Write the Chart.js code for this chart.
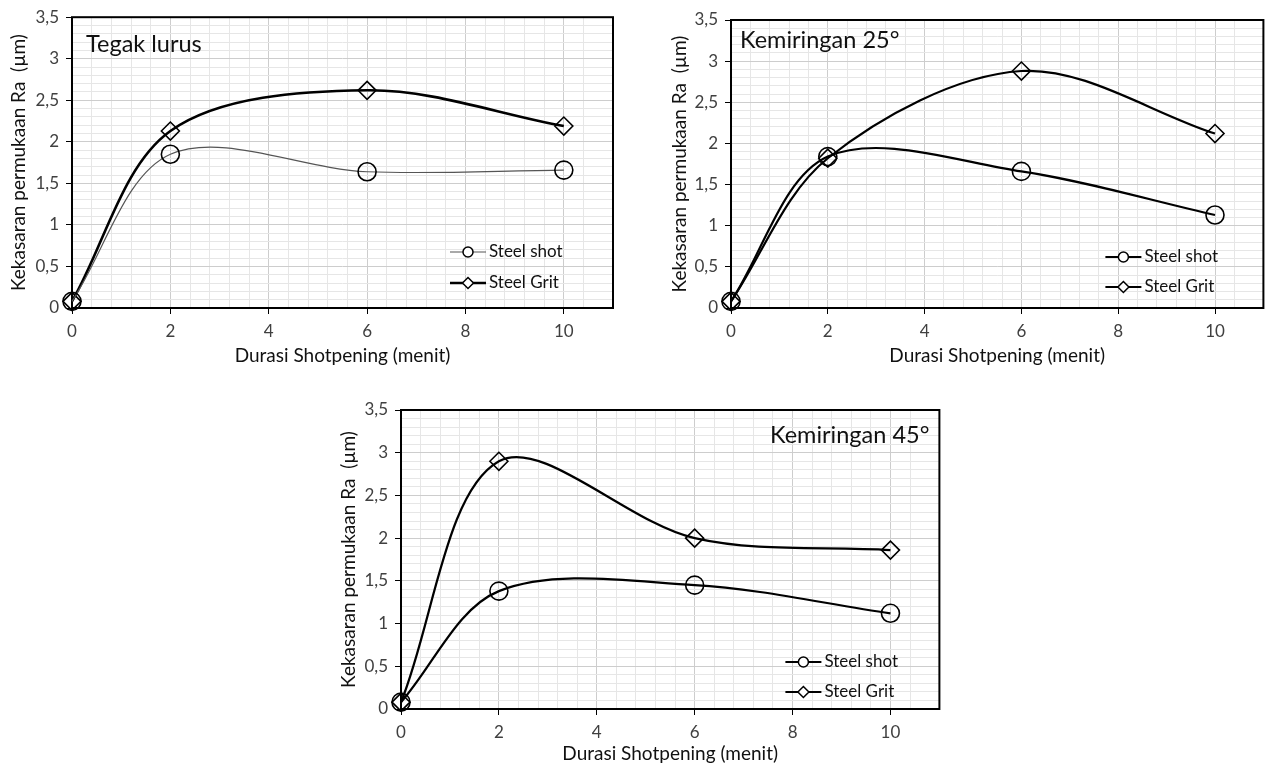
<!DOCTYPE html>
<html>
<head>
<meta charset="utf-8">
<script src="https://cdn.jsdelivr.net/npm/chart.js"></script>
<style>
  body { margin: 0; background: #fff; width: 1274px; height: 767px; position: relative; overflow: hidden; }
  canvas { position: absolute; }
</style>
</head>
<body>
<canvas id="c1" width="630" height="370" style="left:0px;top:0px"></canvas>
<canvas id="c2" width="614" height="370" style="left:660px;top:0px"></canvas>
<canvas id="c3" width="620" height="377" style="left:330px;top:390px"></canvas>
<script>
// data
const durasi = [0, 2, 6, 10];
const seriesNames = ["Steel shot", "Steel Grit"];
const tegakShot = [0.08, 1.85, 1.64, 1.66];
const tegakGrit = [0.08, 2.13, 2.62, 2.19];
const miring25Shot = [0.08, 1.84, 1.66, 1.13];
const miring25Grit = [0.08, 1.82, 2.88, 2.12];
const miring45Shot = [0.08, 1.38, 1.45, 1.12];
const miring45Grit = [0.08, 2.90, 2.00, 1.86];
const panelTitles = ["Tegak lurus", "Kemiringan 25°", "Kemiringan 45°"];
const xTickLabels = ["0", "2", "4", "6", "8", "10"];
const yTickLabels = ["0", "0,5", "1", "1,5", "2", "2,5", "3", "3,5"];
const xTitle = "Durasi Shotpening (menit)";
const yTitle = "Kekasaran permukaan Ra  (µm)";

const FONT = "Lato, 'Open Sans', sans-serif";

function isMulti(v, step) {
  return Math.abs(v / step - Math.round(v / step)) < 1e-6;
}

// frame, panel title and the legend inside the plot
const panelDeco = {
  id: "panelDeco",
  beforeDatasetsDraw(chart) {
    const { ctx, chartArea: a } = chart;
    ctx.save();
    ctx.strokeStyle = "#000";
    ctx.lineWidth = 2;
    ctx.strokeRect(a.left, a.top, a.right - a.left, a.bottom - a.top);
    ctx.restore();
  },
  afterDraw(chart, args, opts) {
    const { ctx, chartArea: a } = chart;
    ctx.save();
    ctx.fillStyle = "#111";
    ctx.textBaseline = "middle";
    ctx.font = "23.5px " + FONT;
    ctx.textAlign = opts.titleAlign;
    const tx = opts.titleAlign === "left" ? a.left + opts.titleDx : a.right - opts.titleDx;
    ctx.fillText(opts.title, tx, a.top + opts.titleDy);

    ctx.font = "17px " + FONT;
    ctx.textAlign = "left";
    chart.data.datasets.forEach((ds, i) => {
      const mx = a.right - opts.legendDx;
      const my = a.bottom - opts.legendDy[i];
      ctx.strokeStyle = ds.borderColor;
      ctx.lineWidth = ds.borderWidth;
      ctx.beginPath();
      ctx.moveTo(mx - 18, my);
      ctx.lineTo(mx + 18, my);
      ctx.stroke();
      ctx.fillStyle = "#fff";
      ctx.strokeStyle = "#000";
      ctx.lineWidth = 1.5;
      ctx.beginPath();
      if (ds.pointStyle === "circle") {
        ctx.arc(mx, my, 5, 0, Math.PI * 2);
      } else {
        ctx.moveTo(mx, my - 5.5);
        ctx.lineTo(mx + 5.5, my);
        ctx.lineTo(mx, my + 5.5);
        ctx.lineTo(mx - 5.5, my);
        ctx.closePath();
      }
      ctx.fill();
      ctx.stroke();
      ctx.fillStyle = "#111";
      ctx.fillText(ds.label, mx + 21, my);
    });
    ctx.restore();
  }
};

function makeSet(name, values, style, color, width) {
  return {
    label: name,
    data: durasi.map((x, i) => ({ x: x, y: values[i] })),
    borderColor: color,
    borderWidth: width,
    tension: 0.33,
    pointStyle: style,
    pointRadius: 9,
    pointBorderWidth: 1.6,
    pointBorderColor: "#000",
    pointBackgroundColor: "rgba(0,0,0,0)",
    clip: false,
    fill: false
  };
}

function chartMaker(id, datasets, cfg) {
  new Chart(document.getElementById(id).getContext("2d"), {
    type: "line",
    data: { datasets: datasets },
    plugins: [panelDeco],
    options: {
      responsive: false,
      animation: false,
      events: [],
      layout: { padding: { left: 0, top: cfg.top, right: cfg.right, bottom: 0 } },
      plugins: {
        legend: { display: false },
        tooltip: { enabled: false },
        panelDeco: cfg.deco
      },
      scales: {
        x: {
          type: "linear",
          min: 0,
          max: 11,
          afterFit: (s) => { s.height = cfg.xHeight; },
          ticks: {
            stepSize: 0.4,
            autoSkip: false,
            maxRotation: 0,
            padding: 7,
            color: "#404040",
            font: { family: FONT, size: 17 },
            callback: (v) => (isMulti(v, 2) ? xTickLabels[Math.round(v / 2)] : "")
          },
          grid: {
            color: (c) => (c.tick && isMulti(c.tick.value, 2) ? "#cdcdcd" : "#e6e6e6"),
            tickColor: (c) => (c.tick && isMulti(c.tick.value, 2) ? "#000" : "rgba(0,0,0,0)"),
            tickLength: 6,
            lineWidth: 1
          },
          border: { display: false },
          title: {
            display: true,
            text: xTitle,
            color: "#111",
            font: { family: FONT, size: 19 },
            padding: { top: 0, bottom: cfg.xTitlePad }
          }
        },
        y: {
          min: 0,
          max: 3.5,
          afterFit: (s) => { s.width = cfg.yWidth; },
          ticks: {
            stepSize: 0.1,
            autoSkip: false,
            padding: 7,
            color: "#404040",
            font: { family: FONT, size: 17 },
            callback: (v) => (isMulti(v, 0.5) ? yTickLabels[Math.round(v / 0.5)] : "")
          },
          grid: {
            color: (c) => (c.tick && isMulti(c.tick.value, 0.5) ? "#cdcdcd" : "#e6e6e6"),
            tickColor: (c) => (c.tick && isMulti(c.tick.value, 0.5) ? "#000" : "rgba(0,0,0,0)"),
            tickLength: 6,
            lineWidth: 1
          },
          border: { display: false },
          title: {
            display: true,
            text: yTitle,
            color: "#111",
            font: { family: FONT, size: 19 },
            padding: { top: cfg.yTitlePad, bottom: 0 }
          }
        }
      }
    }
  });
}

chartMaker("c1", [
  makeSet(seriesNames[0], tegakShot, "circle", "#555", 1.2),
  makeSet(seriesNames[1], tegakGrit, "rectRot", "#000", 2.6)
], {
  top: 16, right: 17, xHeight: 62, yWidth: 72, xTitlePad: 2.5, yTitlePad: 7,
  deco: { title: panelTitles[0], titleAlign: "left", titleDx: 14, titleDy: 27, legendDx: 145, legendDy: [56, 25] }
});

chartMaker("c2", [
  makeSet(seriesNames[0], miring25Shot, "circle", "#000", 2.2),
  makeSet(seriesNames[1], miring25Grit, "rectRot", "#000", 2.2)
], {
  top: 20, right: 2, xHeight: 62, yWidth: 71, xTitlePad: 2.5, yTitlePad: 8.5,
  deco: { title: panelTitles[1], titleAlign: "left", titleDx: 9, titleDy: 20, legendDx: 140, legendDy: [51, 21] }
});

chartMaker("c3", [
  makeSet(seriesNames[0], miring45Shot, "circle", "#000", 2.2),
  makeSet(seriesNames[1], miring45Grit, "rectRot", "#000", 2.2)
], {
  top: 20, right: 7, xHeight: 58, yWidth: 71, xTitlePad: 1.5, yTitlePad: 7,
  deco: { title: panelTitles[2], titleAlign: "right", titleDx: 10, titleDy: 25, legendDx: 136, legendDy: [47, 17] }
});
</script>
</body>
</html>
